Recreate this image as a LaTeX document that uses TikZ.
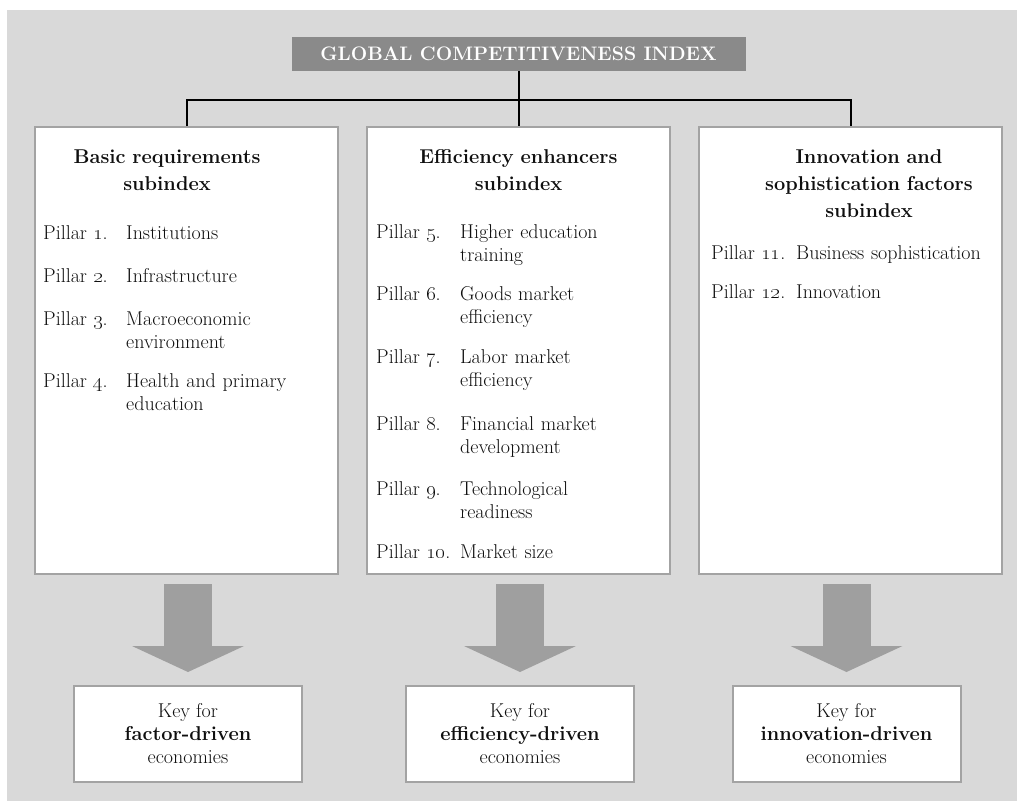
\documentclass[tikz,border=0pt]{standalone}
\usepackage{tikz}
\definecolor{bggray}{RGB}{217,217,217}
\definecolor{titlegray}{RGB}{138,138,138}
\definecolor{boxgray}{RGB}{163,163,163}
\definecolor{arrowgray}{RGB}{159,159,159}
\definecolor{ink}{RGB}{15,15,15}
\usetikzlibrary{arrows.meta}
\newcommand{\bodyfont}{\fontsize{20}{23}\selectfont}
\newcommand{\headfont}{\bfseries\fontsize{20}{27}\selectfont}
\newcommand{\os}[1]{\oldstylenums{#1}}

\begin{document}
\begin{tikzpicture}[x=1pt,y=-1pt,
  title/.style={fill=titlegray,text=white,font=\bfseries\fontsize{19.5}{22}\selectfont,minimum width=454pt,minimum height=34pt,inner sep=0pt},
  subbox/.style={draw=boxgray,line width=2pt,fill=white,anchor=north,minimum width=303pt,minimum height=447pt},
  keybox/.style={draw=boxgray,line width=2pt,fill=white,minimum width=228pt,minimum height=96pt,align=center,font=\bodyfont,text=ink},
  head/.style={anchor=base,text width=290pt,align=center,inner sep=0pt,font=\headfont,text=ink},
  pillar/.style={anchor=base west,inner sep=0pt,font=\bodyfont,text=ink},
  ptext/.style={anchor=base west,inner sep=0pt,text width=204pt,align=left,font=\bodyfont,text=ink},
  link/.style={line width=2pt},
  bigarrow/.style={arrowgray,line width=48pt,-{Triangle[length=26pt,width=112pt,line width=0pt]},shorten <=9pt,shorten >=13pt}]
  \useasboundingbox (0,0) rectangle (1017,801);
  \fill[bggray] (7,10) rectangle (1017,801);

  \node[title] (gci) at (518.5,54) {GLOBAL COMPETITIVENESS INDEX};

  \node[subbox] (sub1) at (186.5,126) {};
  \node[subbox] (sub2) at (518.5,126) {};
  \node[subbox] (sub3) at (850.5,126) {};

  \coordinate (bar) at (518.5,100);
  \draw[link] (gci) -- (sub2);
  \draw[link] (sub1.north) |- (bar) -| (sub3.north);

  \node[head] (h1) at (167,163) {Basic requirements\\subindex};
  \node[pillar] (p1) at (43,239) {Pillar \os{1}.};
  \node[ptext] (p1t) at (126,239) {Institutions};
  \node[pillar] (p2) at (43,282) {Pillar \os{2}.};
  \node[ptext] (p2t) at (126,282) {Infrastructure};
  \node[pillar] (p3) at (43,325) {Pillar \os{3}.};
  \node[ptext] (p3t) at (126,325) {Macroeconomic\\environment};
  \node[pillar] (p4) at (43,387) {Pillar \os{4}.};
  \node[ptext] (p4t) at (126,387) {Health and primary\\education};

  \node[head] (h2) at (518.5,163) {Efficiency enhancers\\subindex};
  \node[pillar] (p5) at (376,238) {Pillar \os{5}.};
  \node[ptext] (p5t) at (460,238) {Higher education\\training};
  \node[pillar] (p6) at (376,300) {Pillar \os{6}.};
  \node[ptext] (p6t) at (460,300) {Goods market\\efficiency};
  \node[pillar] (p7) at (376,363) {Pillar \os{7}.};
  \node[ptext] (p7t) at (460,363) {Labor market\\efficiency};
  \node[pillar] (p8) at (376,430) {Pillar \os{8}.};
  \node[ptext] (p8t) at (460,430) {Financial market\\development};
  \node[pillar] (p9) at (376,495) {Pillar \os{9}.};
  \node[ptext] (p9t) at (460,495) {Technological\\readiness};
  \node[pillar] (p10) at (376,558) {Pillar \os{10}.};
  \node[ptext] (p10t) at (460,558) {Market size};

  \node[head] (h3) at (869,163) {Innovation and\\sophistication factors\\subindex};
  \node[pillar] (p11) at (711,259) {Pillar \os{11}.};
  \node[ptext] (p11t) at (796,259) {Business sophistication};
  \node[pillar] (p12) at (711,298) {Pillar \os{12}.};
  \node[ptext] (p12t) at (796,298) {Innovation};

  \node[keybox] (key1) at (188,734) {Key for\\{\bfseries\fontsize{20}{24}\selectfont factor-driven}\\economies};
  \node[keybox] (key2) at (520,734) {Key for\\{\bfseries\fontsize{20}{24}\selectfont efficiency-driven}\\economies};
  \node[keybox] (key3) at (846.5,734) {Key for\\{\bfseries\fontsize{20}{24}\selectfont innovation-driven}\\economies};

  \draw[bigarrow] (key1.north |- sub1.south) -- (key1.north);
  \draw[bigarrow] (key2.north |- sub2.south) -- (key2.north);
  \draw[bigarrow] (key3.north |- sub3.south) -- (key3.north);
\end{tikzpicture}
\end{document}
